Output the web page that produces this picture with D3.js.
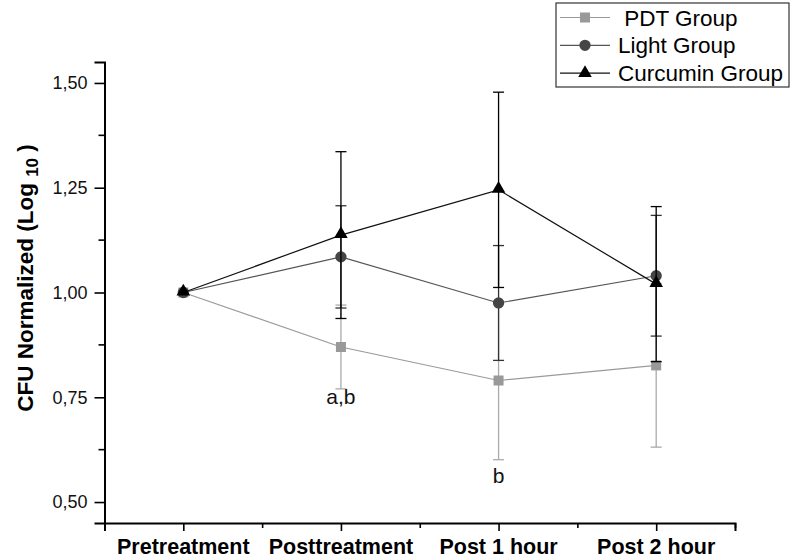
<!DOCTYPE html>
<html>
<head>
<meta charset="utf-8">
<script src="https://cdn.jsdelivr.net/npm/d3@7"></script>
<style>
  body { margin: 0; background: #fff; }
  svg { display: block; font-family: "Liberation Sans", Arial, sans-serif; }
</style>
</head>
<body>
<svg id="chart" width="792" height="560"></svg>
<script>
// data
const categories = ["Pretreatment", "Posttreatment", "Post 1 hour", "Post 2 hour"];
const pdtMean    = [1.00, 0.870, 0.790, 0.826];
const pdtErr     = [0, 0.100, 0.189, 0.195];
const lightMean  = [1.00, 1.085, 0.975, 1.040];
const lightErr   = [0, 0.122, 0.137, 0.144];
const curcMean   = [1.00, 1.137, 1.245, 1.020];
const curcErr    = [0, 0.199, 0.233, 0.185];
const yTicks     = [0.50, 0.75, 1.00, 1.25, 1.50];
const yMinor     = [0.625, 0.875, 1.125, 1.375];
const notes      = [{cat: 1, text: "a,b", y: 0.735}, {cat: 2, text: "b", y: 0.545}];

const series = [
  {name: " PDT Group",      mean: pdtMean,   err: pdtErr,   line: "#9a9a9a", fill: "#999", bar: "#aaa", shape: d3.symbolSquare},
  {name: "Light Group",     mean: lightMean, err: lightErr, line: "#555",    fill: "#454545", bar: "#333", shape: d3.symbolCircle},
  {name: "Curcumin Group",  mean: curcMean,  err: curcErr,  line: "#111",    fill: "#000", bar: "#000", shape: d3.symbolTriangle}
];

const svg = d3.select("#chart");

const x = d3.scaleLinear().domain([-0.5, 3.5]).range([104.5, 735]);
const y = d3.scaleLinear().domain([0.45, 1.55]).range([523, 62]);

// axes
const xAxis = svg.append("g").attr("transform", "translate(0,523)");
xAxis.call(d3.axisBottom(x).tickValues([-0.5, 0, 0.5, 1, 1.5, 2, 2.5, 3, 3.5])
    .tickFormat("").tickSizeOuter(0).tickSize(8));
xAxis.select(".domain").attr("stroke-width", 2);
xAxis.selectAll(".tick line").attr("stroke-width", 1.6)
  .attr("y2", d => Number.isInteger(d) ? 8 : 5);

xAxis.selectAll(".cat")
  .data(categories)
  .enter().append("text")
    .attr("class", "cat")
    .attr("x", (d, i) => x(i))
    .attr("y", 31)
    .attr("text-anchor", "middle")
    .attr("font-size", 21.5)
    .attr("font-weight", "bold")
    .attr("font-family", "Liberation Sans, Arial, sans-serif")
    .attr("fill", "#000")
    .text(d => d);

const yAxis = svg.append("g").attr("transform", "translate(104.5,0)");
yAxis.call(d3.axisLeft(y).tickValues(yTicks)
    .tickFormat(d => d3.format(".2f")(d).replace(".", ","))
    .tickSizeOuter(0).tickSize(10).tickPadding(7));
yAxis.select(".domain").attr("stroke-width", 2);
yAxis.selectAll(".tick line").attr("stroke-width", 1.6);
yAxis.attr("font-size", 18).attr("font-family", "Liberation Sans, Arial, sans-serif");
yAxis.selectAll(".tick text").attr("fill", "#111");

yAxis.selectAll(".minor")
  .data(yMinor)
  .enter().append("line")
    .attr("class", "minor")
    .attr("x1", -6).attr("x2", 0)
    .attr("y1", d => y(d)).attr("y2", d => y(d))
    .attr("stroke", "#000").attr("stroke-width", 1.6);

// y title with subscript
const yTitle = svg.append("text")
  .attr("transform", "translate(33,278) rotate(-90)")
  .attr("text-anchor", "middle")
  .attr("font-size", 22.5)
  .attr("font-weight", "bold");
yTitle.append("tspan").text("CFU Normalized (Log ");
yTitle.append("tspan").attr("font-size", 17).attr("dy", 5).text("10");
yTitle.append("tspan").attr("dy", -5).text(" )");

// series
const plot = svg.append("g");

series.forEach(s => {
  const g = plot.append("g");
  const pts = s.mean.map((m, i) => ({i, m, e: s.err[i]}));

  // error bars
  const eb = g.selectAll(".eb").data(pts.filter(p => p.e > 0)).enter().append("g");
  eb.append("line")
    .attr("x1", p => x(p.i)).attr("x2", p => x(p.i))
    .attr("y1", p => y(p.m + p.e)).attr("y2", p => y(p.m - p.e))
    .attr("stroke", s.bar).attr("stroke-width", 1.3);
  [1, -1].forEach(sign => {
    eb.append("line")
      .attr("x1", p => x(p.i) - 5.5).attr("x2", p => x(p.i) + 5.5)
      .attr("y1", p => y(p.m + sign * p.e)).attr("y2", p => y(p.m + sign * p.e))
      .attr("stroke", s.bar).attr("stroke-width", 1.3);
  });

  g.append("path")
    .datum(pts)
    .attr("fill", "none")
    .attr("stroke", s.line)
    .attr("stroke-width", 1.2)
    .attr("d", d3.line().x(p => x(p.i)).y(p => y(p.m)));

  g.selectAll(".mk").data(pts).enter().append("path")
    .attr("transform", p => `translate(${x(p.i)},${y(p.m) + (s.shape === d3.symbolTriangle ? -1 : 0)})`)
    .attr("d", d3.symbol().type(s.shape).size(s.shape === d3.symbolTriangle ? 80 : 100))
    .attr("fill", s.fill);
});

// annotations
svg.selectAll(".note")
  .data(notes)
  .enter().append("text")
    .attr("x", d => x(d.cat))
    .attr("y", d => y(d.y))
    .attr("text-anchor", "middle")
    .attr("font-size", 21)
    .attr("fill", "#111")
    .text(d => d.text);

// legend
const legend = svg.append("g").attr("transform", "translate(556,3)");
legend.append("rect")
  .attr("width", 233).attr("height", 84)
  .attr("fill", "#fff").attr("stroke", "#333").attr("stroke-width", 1.2);

const row = legend.selectAll(".row")
  .data(series)
  .enter().append("g")
    .attr("transform", (d, i) => `translate(0,${14.5 + i * 27.8})`);

row.append("line")
  .attr("x1", 4).attr("x2", 54)
  .attr("stroke", d => d.line).attr("stroke-width", 1.2);
row.append("path")
  .attr("transform", "translate(29,0)")
  .attr("d", d => d3.symbol().type(d.shape).size(d.shape === d3.symbolTriangle ? 80 : 100)())
  .attr("fill", d => d.fill);
row.append("text")
  .attr("x", 62)
  .attr("y", 8)
  .attr("font-size", 22.5)
  .attr("fill", "#000")
  .style("white-space", "pre")
  .text(d => d.name);
</script>
</body>
</html>
